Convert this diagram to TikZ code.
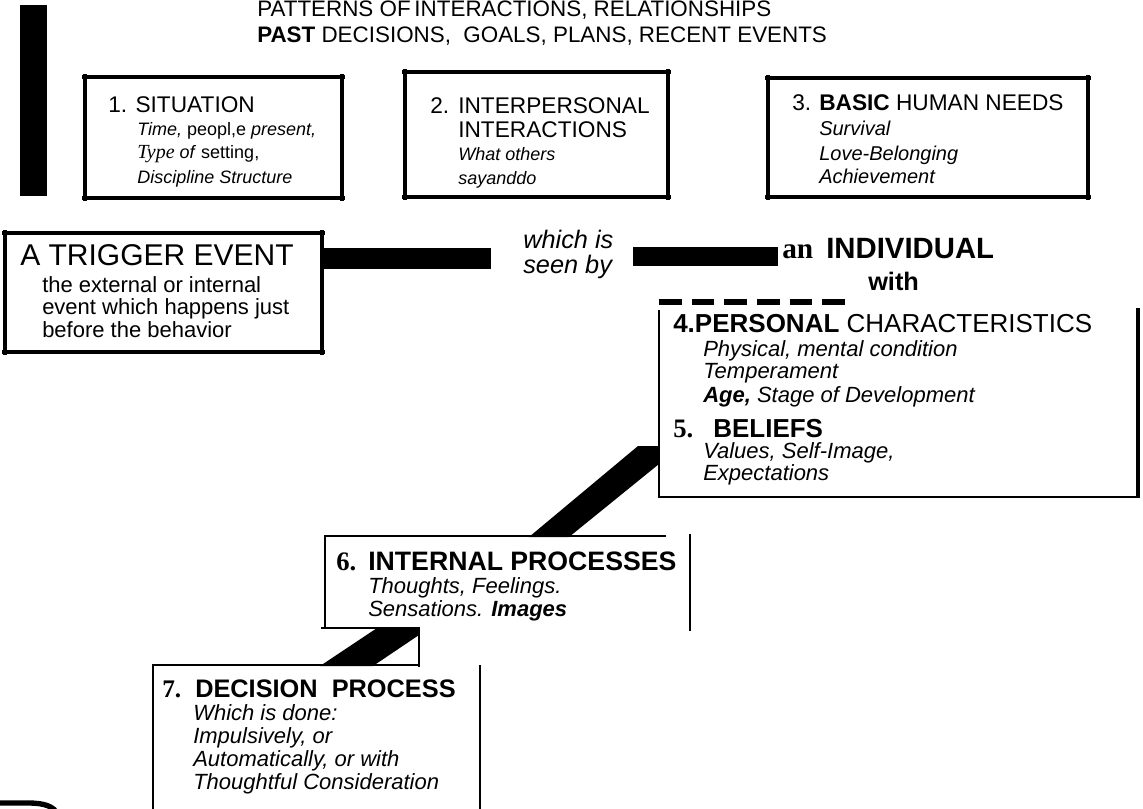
\documentclass[tikz,border=0pt]{standalone}
\usepackage{fontspec}
\setmainfont{Liberation Sans}
\newfontfamily\tnr{Liberation Serif}
\newcommand\fs[1]{\fontsize{#1}{#1}\selectfont}
% box drawn as four strokes that run a little past the corners
\newcommand\sketchbox[4]{%
  \draw[frame,overshoot] (#1,#2) -- (#3,#2); \draw[frame,overshoot] (#1,#4) -- (#3,#4);
  \draw[frame,overshoot] (#1,#2) -- (#1,#4); \draw[frame,overshoot] (#3,#2) -- (#3,#4);}

\begin{document}
\begin{tikzpicture}[x=0.75pt,y=-0.75pt,
  frame/.style={line width=2.6pt},
  thinframe/.style={line width=2.2pt},
  overshoot/.style={shorten <=-2pt,shorten >=-2pt},
  txt/.style={anchor=base west,inner sep=0pt}]
\useasboundingbox (0,0) rectangle (1143,808);

\fill (20,5) rectangle (47,196);
\node[txt,font=\fs{16.8}] (pat) at (257,16) {PATTERNS OF\,INTERACTIONS, RELATIONSHIPS};
\node[txt,font=\fs{16.8}] (past) at (257,42) {\textbf{PAST} DECISIONS,\ \ GOALS, PLANS, RECENT EVENTS};

\sketchbox{85}{77}{342}{198}
\node[txt,font=\fs{17}] (sit) at (108,112) {1. SITUATION};
\node[txt,font=\fs{13.5}] (sit1) at (137,135) {\textit{Time,} peopl,e \textit{present,}};
\node[txt,font=\fs{13.5}] (sit2) at (137,158) {{\tnr\itshape\fs{15}Type} \textit{of} setting,};
\node[txt,font=\fs{13.5}] (sit3) at (137,183) {\textit{Discipline Structure}};

\sketchbox{405}{72}{668}{197}
\node[txt,font=\fs{17}] (ipnum) at (430,113) {2.};
\node[txt,font=\fs{17}] (ip1) at (458,113) {INTERPERSONAL};
\node[txt,font=\fs{17}] (ip2) at (458,137) {INTERACTIONS};
\node[txt,font=\fs{13.5}\itshape] (ip3) at (458,160) {What others};
\node[txt,font=\fs{13.5}\itshape] (ip4) at (458,184) {sayanddo};

\sketchbox{768}{78}{1088}{197}
\node[txt,font=\fs{17}] (bnnum) at (792,110) {3.};
\node[txt,font=\fs{17}] (bn1) at (819,110) {\textbf{BASIC} HUMAN NEEDS};
\node[txt,font=\fs{15}\itshape] (bn2) at (819,135) {Survival};
\node[txt,font=\fs{15}\itshape] (bn3) at (819,160) {Love-Belonging};
\node[txt,font=\fs{15}\itshape] (bn4) at (819,183) {Achievement};

\sketchbox{5}{233}{322}{352}
\node[txt,font=\fs{22.5}] (trig) at (20,265) {A TRIGGER EVENT};
\node[txt,font=\fs{16.5}] (trig1) at (42,292) {the external or internal};
\node[txt,font=\fs{16.5}] (trig2) at (42,314) {event which happens just};
\node[txt,font=\fs{16.5}] (trig3) at (42,337) {before the behavior};

\fill (322,248) rectangle (491,269);
\node[txt,font=\fs{19}\itshape] (seen1) at (523,248) {which is};
\node[txt,font=\fs{19}\itshape] (seen2) at (523,273) {seen by};
\fill (633,247) rectangle (778,266);
\node[txt,font=\fs{22}\bfseries\tnr] (an) at (782,258) {an};
\node[txt,font=\fs{22}\bfseries] (indiv) at (826,258) {INDIVIDUAL};
\node[txt,font=\fs{19}\bfseries] (with) at (868,290) {with};

\draw[line width=3.8pt,dash pattern=on 17pt off 7.5pt] (659,302) -- (852,302);
\draw[thinframe] (659,310) -- (659,497) -- (1140,497);
\draw[frame] (1138,308) -- (1138,497);
\node[txt,font=\fs{19.5}] (pers) at (673,332) {\textbf{4.PERSONAL} CHARACTERISTICS};
\node[txt,font=\fs{16.5}\itshape] (pers1) at (703,356) {Physical, mental condition};
\node[txt,font=\fs{16.5}\itshape] (pers2) at (703,378) {Temperament};
\node[txt,font=\fs{16.5}\itshape] (pers3) at (703,402) {\textbf{Age,} Stage of Development};
\node[txt,font=\fs{20}\bfseries\tnr] (belnum) at (673,437) {5.};
\node[txt,font=\fs{19.5}\bfseries] (bel) at (713,437) {BELIEFS};
\node[txt,font=\fs{16.5}\itshape] (bel1) at (703,458) {Values, Self-Image,};
\node[txt,font=\fs{16.5}\itshape] (bel2) at (703,480) {Expectations};

\fill (529,537) -- (638,446) -- (659,446) -- (659,464) -- (569,537) -- cycle;

\draw[thinframe] (325,628) -- (325,536) -- (666,536);
\draw[thinframe] (321,628) -- (419,628) -- (419,667);
\draw[thinframe] (690,534) -- (690,631);
\node[txt,font=\fs{20}\bfseries\tnr] (intnum) at (336,570) {6.};
\node[txt,font=\fs{20}\bfseries] (int) at (368,570) {INTERNAL PROCESSES};
\node[txt,font=\fs{16.5}\itshape] (int1) at (368,593) {Thoughts, Feelings.};
\node[txt,font=\fs{16.5}\itshape] (int2) at (368,616) {Sensations. \textbf{Images}};

\fill (320,666) -- (377,628) -- (419,628) -- (419,635) -- (373,666) -- cycle;

\draw[thinframe] (153,812) -- (153,665) -- (419,665);
\draw[thinframe] (480,665) -- (480,812);
\node[txt,font=\fs{19}\bfseries\tnr] (decnum) at (162,697) {7.};
\node[txt,font=\fs{19}\bfseries] (dec) at (195,697) {DECISION\ \ PROCESS};
\node[txt,font=\fs{16.5}\itshape] (dec1) at (193,720) {Which is done:};
\node[txt,font=\fs{16.5}\itshape] (dec2) at (193,743) {Impulsively, or};
\node[txt,font=\fs{16.5}\itshape] (dec3) at (193,766) {Automatically, or with};
\node[txt,font=\fs{16.5}\itshape] (dec4) at (193,789) {Thoughtful Consideration};

\draw[line width=4pt] (-5,803) -- (28,803) .. controls (44,803) and (54,806) .. (58,815);
\end{tikzpicture}
\end{document}
